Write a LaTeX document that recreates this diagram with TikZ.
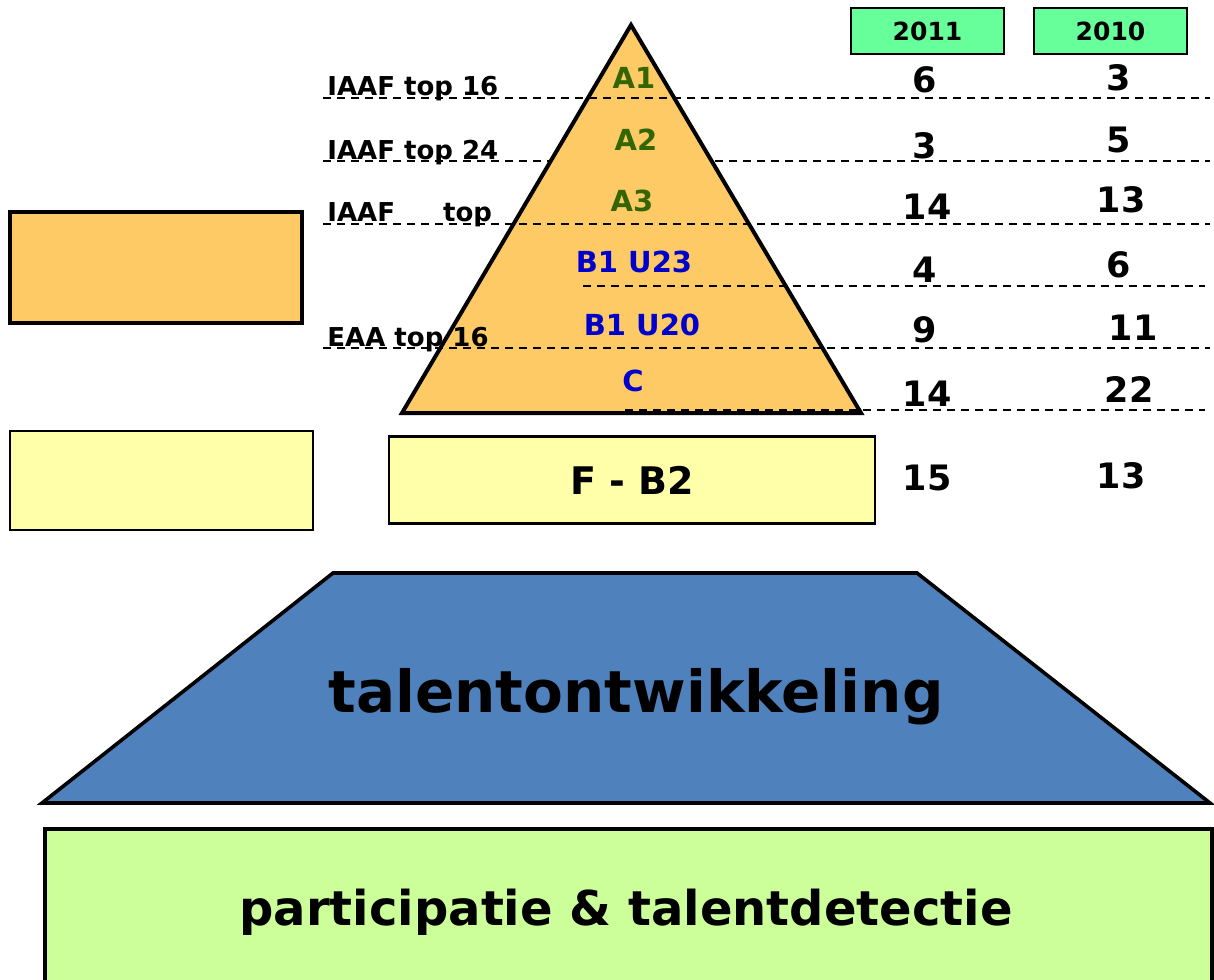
\documentclass[tikz,border=0pt]{standalone}
\usepackage{fontspec}
\setmainfont{DejaVu Sans}
\usepackage{xcolor}
\usepackage{tikz}
\definecolor{pyrorange}{HTML}{FDCA66}
\definecolor{pyryellow}{HTML}{FFFFAA}
\definecolor{pyrblue}{HTML}{4F81BD}
\definecolor{pyrgreen}{HTML}{CCFF99}
\definecolor{yeargreen}{HTML}{66FF99}
\definecolor{lvlgreen}{HTML}{336600}
\definecolor{lvlblue}{HTML}{0000CC}
\tikzstyle{yearbox} = [draw=black, line width=1.1pt, rectangle, fill=yeargreen, minimum width=76.5pt, minimum height=23pt, inner sep=0pt, font=\bfseries\fontsize{12.5}{12.5}\selectfont]
\tikzstyle{toplbl} = [anchor=base west, inner sep=0pt, font=\bfseries\fontsize{13}{13}\selectfont]
\tikzstyle{alvl} = [text=lvlgreen, inner sep=0pt, font=\bfseries\fontsize{14.5}{14.5}\selectfont]
\tikzstyle{blvl} = [text=lvlblue, inner sep=0pt, font=\bfseries\fontsize{14.5}{14.5}\selectfont]
\tikzstyle{num} = [inner sep=0pt, font=\bfseries\fontsize{17.5}{17.5}\selectfont]
\tikzstyle{sep} = [line width=0.9pt, dash pattern=on 4pt off 3pt]

\begin{document}
\begin{tikzpicture}[x=0.5pt,y=-0.5pt]
	\useasboundingbox (0,0) rectangle (1214,979);

	% line that sits behind the pyramid
	\draw [sep] (323,161) -- (1210,161);

	% pyramid
	\draw [fill=pyrorange, line width=2pt, line join=miter] (631,25) -- (861,413) -- (402,413) -- cycle;

	\draw [sep] (323,98) -- (1210,98);
	\draw [sep] (323,224) -- (1210,224);
	\draw [sep] (583,286) -- (1205,286);
	\draw [sep] (323,348) -- (1210,348);
	\draw [sep] (625,410) -- (1205,410);

	% legend boxes
	\draw [fill=pyrorange, line width=2pt] (10,212) rectangle (302,323);
	\draw [fill=pyryellow, line width=1.1pt] (10,431) rectangle (313,530);

	\node [draw=black, line width=1.1pt, fill=pyryellow, minimum width=243pt, minimum height=43.5pt, font=\bfseries\fontsize{19}{19}\selectfont] (fb2) at (632,480) {F - B2};

	% base of the pyramid
	\draw [fill=pyrblue, line width=1.8pt] (333,573) -- (917,573) -- (1210,803) -- (42,803) -- cycle;
	\node [font=\bfseries\fontsize{29}{29}\selectfont] (talent) at (636,697) {talentontwikkeling};
	\node [draw=black, line width=1.8pt, fill=pyrgreen, minimum width=583.5pt, minimum height=82pt, anchor=north west] (part) at (43,827) {};
	\node [font=\bfseries\fontsize{24}{24}\selectfont] (parttxt) at (626,912) {participatie \& talentdetectie};

	% years
	\node [yearbox] (y2011) at (927.5,31) {2011};
	\node [yearbox] (y2010) at (1110.5,31) {2010};

	% ranking labels
	\node [toplbl] (t16) at (327,96) {IAAF top 16};
	\node [toplbl] (t24) at (327,159) {IAAF top 24};
	\node [toplbl] (tx) at (327,221) {IAAF\hspace{24pt}top};
	\node [toplbl] (e16) at (327,346) {EAA top 16};

	% levels
	\node [alvl] (a1) at (634,78) {A1};
	\node [alvl] (a2) at (636,140) {A2};
	\node [alvl] (a3) at (632,201) {A3};
	\node [blvl] (b23) at (634,262) {B1 U23};
	\node [blvl] (b20) at (642,325) {B1 U20};
	\node [blvl] (c) at (633,381) {C};

	% counts
	\node [num] (n1a) at (925,80) {6};
	\node [num] (n2a) at (925,146) {3};
	\node [num] (n3a) at (927,207) {14};
	\node [num] (n4a) at (925,270) {4};
	\node [num] (n5a) at (925,330) {9};
	\node [num] (n6a) at (927,394) {14};
	\node [num] (n7a) at (927,478) {15};
	\node [num] (n1b) at (1119,78) {3};
	\node [num] (n2b) at (1119,140) {5};
	\node [num] (n3b) at (1121,200) {13};
	\node [num] (n4b) at (1119,265) {6};
	\node [num] (n5b) at (1133,328) {11};
	\node [num] (n6b) at (1129,390) {22};
	\node [num] (n7b) at (1121,476) {13};
\end{tikzpicture}
\end{document}
